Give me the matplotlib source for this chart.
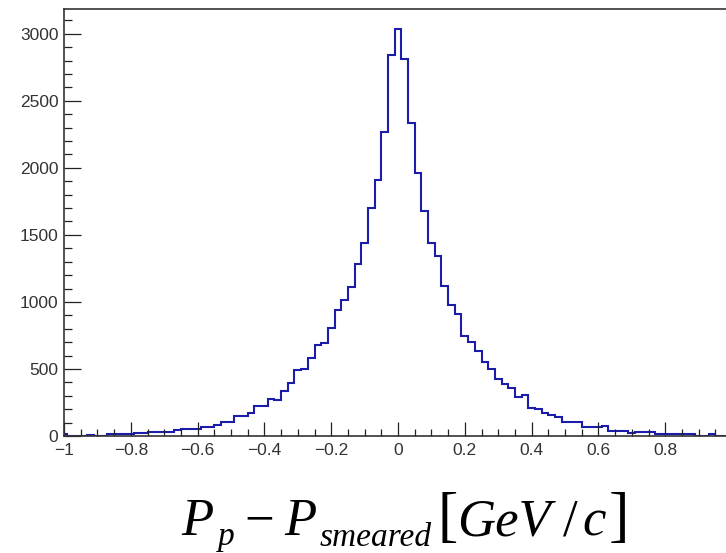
import numpy as np
import matplotlib
matplotlib.use("Agg")
import matplotlib.pyplot as plt
from matplotlib.ticker import MultipleLocator

# momentum residual histogram, 0.02 wide bins centred on -1.00 ... 1.00
bin_edges = np.linspace(-1.01, 1.01, 102)

counts_neg = [12, 0, 0, 0, 10, 0, 0, 15, 15, 18,            # -1.00 .. -0.82
              18, 20, 20, 32, 32, 32, 32, 45, 52, 52,       # -0.80 .. -0.62
              52, 64, 64, 80, 107, 107, 146, 146, 172, 226,  # -0.60 .. -0.42
              226, 278, 265, 332, 397, 491, 501, 580, 677, 690,        # -0.40 .. -0.22
              806, 937, 1017, 1109, 1280, 1441, 1701, 1912, 2269, 2841]  # -0.20 .. -0.02
count_zero = [3033]
counts_pos = [2812, 2334, 1965, 1677, 1440, 1346, 1122, 976, 913, 744,  # 0.02 .. 0.20
              700, 632, 555, 502, 423, 385, 356, 291, 304, 211,        # 0.22 .. 0.40
              198, 172, 158, 144, 106, 106, 106, 67, 67, 67,           # 0.42 .. 0.60
              72, 40, 40, 40, 20, 30, 30, 30, 15, 15,                  # 0.62 .. 0.80
              15, 15, 15, 15, 0, 0, 12, 0, 0, 0]                       # 0.82 .. 1.00
counts = np.array(counts_neg + count_zero + counts_pos, dtype=float)

# axis title pieces: (text, x px, baseline px, size pt, italic)
title_pieces = [
    ("P", 181, 535, 38, True),
    ("p", 218, 545, 24, True),
    ("\u2212", 244, 535, 38, False),
    ("P", 284, 535, 38, True),
    ("smeared", 320, 546, 24, True),
    ("[", 437, 535, 44, False),
    ("GeV", 457, 535, 38, True),
    ("/", 563, 535, 38, False),
    ("c", 582, 535, 38, True),
    ("]", 609, 535, 44, False),
]

plt.rcParams["font.family"] = "Liberation Sans"

W, H = 726, 553
fig = plt.figure(figsize=(W / 100, H / 100), dpi=100)
# frame runs a little past the right edge of the canvas
ax = fig.add_axes([64 / W, (H - 436) / H, 668 / W, 427 / H])

ax.stairs(counts, bin_edges, color="#1c1cab", lw=1.5)

ax.set_xlim(-1.0, 1.0)
ax.set_ylim(0, counts.max() * 1.05)


def x_fmt(v, pos):
    if v > 0.9:
        return ""
    s = f"{v:.1f}".replace("-", "\u2212")
    if abs(v) < 1e-9:
        return "0"
    if abs(abs(v) - 1) < 1e-9:
        return s.replace("1.0", "1")
    return s


ax.xaxis.set_major_locator(MultipleLocator(0.2))
ax.xaxis.set_minor_locator(MultipleLocator(0.05))
ax.yaxis.set_major_locator(MultipleLocator(500))
ax.yaxis.set_minor_locator(MultipleLocator(100))
ax.xaxis.set_major_formatter(x_fmt)
ax.yaxis.set_major_formatter(lambda v, pos: f"{v:.0f}")

ax.tick_params(axis="both", which="both", direction="in", top=False, right=False,
               colors="#222222", labelcolor="#333333", labelsize=12.5, width=0.9)
ax.tick_params(axis="x", which="major", length=10, pad=5)
ax.tick_params(axis="x", which="minor", length=5)
ax.tick_params(axis="y", which="major", length=12, pad=4)
ax.tick_params(axis="y", which="minor", length=6)

for side in ("left", "bottom", "top", "right"):
    ax.spines[side].set_color("#333333")
    ax.spines[side].set_linewidth(1.2)

for text, xp, yp, size, italic in title_pieces:
    fig.text(xp / W, (H - yp) / H, text, ha="left", va="baseline",
             fontsize=size, family="Liberation Serif",
             style="italic" if italic else "normal", color="black")

fig.savefig("out.png", dpi=100)
